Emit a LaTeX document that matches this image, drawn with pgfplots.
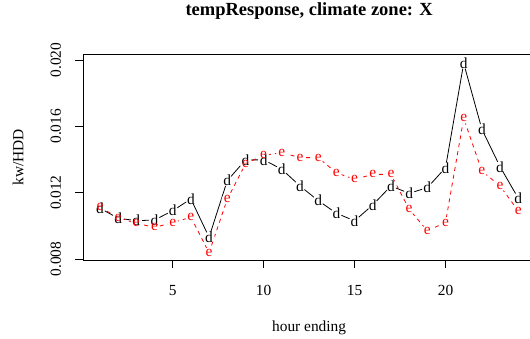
\documentclass[border=0pt]{standalone}
\usepackage{fontspec}
\setmainfont{Liberation Serif}
\usepackage{pgfplots}
\pgfplotsset{compat=1.18}
\usepackage{pgfplotstable}

\pgfplotstableread{
x y
1 0.01106
2 0.01046
3 0.01031
4 0.01035
5 0.01091
6 0.01162
7 0.00931
8 0.01272
9 0.01397
10 0.01398
11 0.01341
12 0.01240
13 0.01152
14 0.01076
15 0.01030
16 0.01126
17 0.01240
18 0.01196
19 0.01230
20 0.01350
21 0.01980
22 0.01582
23 0.01356
24 0.01166
}\dtab

\pgfplotstableread{
x y
1 0.01112
2 0.01050
3 0.01015
4 0.00991
5 0.01019
6 0.01052
7 0.00838
8 0.01160
9 0.01373
10 0.01425
11 0.01441
12 0.01411
13 0.01411
14 0.01320
15 0.01280
16 0.01310
17 0.01310
18 0.01100
19 0.00970
20 0.01020
21 0.01648
22 0.01330
23 0.01240
24 0.01090
}\etab

\begin{document}
\begin{tikzpicture}
\begin{axis}[
  at={(83.2pt,79pt)}, anchor=south west,
  scale only axis,
  width=451.8pt, height=205.7pt,
  xmin=0.08, xmax=24.92,
  ymin=0.00794, ymax=0.02034,
  axis line style={black, line width=0.8pt},
  xtick={5,10,15,20},
  ytick={0.008,0.012,0.016,0.020},
  tick align=outside,
  xtick pos=bottom, ytick pos=left,
  major tick length=8pt,
  tick style={black, line width=0.8pt},
  scaled y ticks=false,
  /pgf/number format/assume math mode=true,
  yticklabel={\pgfmathprintnumber[fixed, fixed zerofill, precision=3]{\tick}},
  ticklabel style={font=\fontsize{15.4}{17}\selectfont},
  xticklabel style={anchor=north, inner sep=0pt, yshift=-17pt},
  yticklabel style={rotate=90, anchor=south, inner sep=0pt, yshift=14pt},
  xlabel={hour ending},
  ylabel={kw/HDD},
  label style={font=\fontsize{15.4}{17}\selectfont},
  xlabel style={at={(axis description cs:0.5,0)}, anchor=center, yshift=-68pt},
  ylabel style={at={(axis description cs:-0.1439,0.5)}, anchor=center},
  title={tempResponse, climate zone: X},
  title style={at={(axis description cs:0.5,1)}, anchor=center, yshift=37pt, font=\bfseries\fontsize{18.5}{20}\selectfont},
  clip=false,
]
\addplot[black, line width=0.8pt, no marks] table {\dtab};
\addplot[red, line width=0.8pt, dash pattern=on 4pt off 4pt, no marks] table {\etab};
\addplot[white, only marks, mark=*, mark size=5.5pt] table {\dtab};
\addplot[white, only marks, mark=*, mark size=5.5pt] table {\etab};
\addplot[black, only marks, mark=text, text mark={d}, text mark as node=true,
  text mark style={font=\fontsize{15.4}{17}\selectfont, inner sep=0pt}] table {\dtab};
\addplot[red, only marks, mark=text, text mark={e}, text mark as node=true,
  text mark style={font=\fontsize{15.4}{17}\selectfont, inner sep=0pt}] table {\etab};
\end{axis}
\pgfresetboundingbox
\path[use as bounding box] (0,0) rectangle (530pt,339pt);
\end{tikzpicture}
\end{document}
